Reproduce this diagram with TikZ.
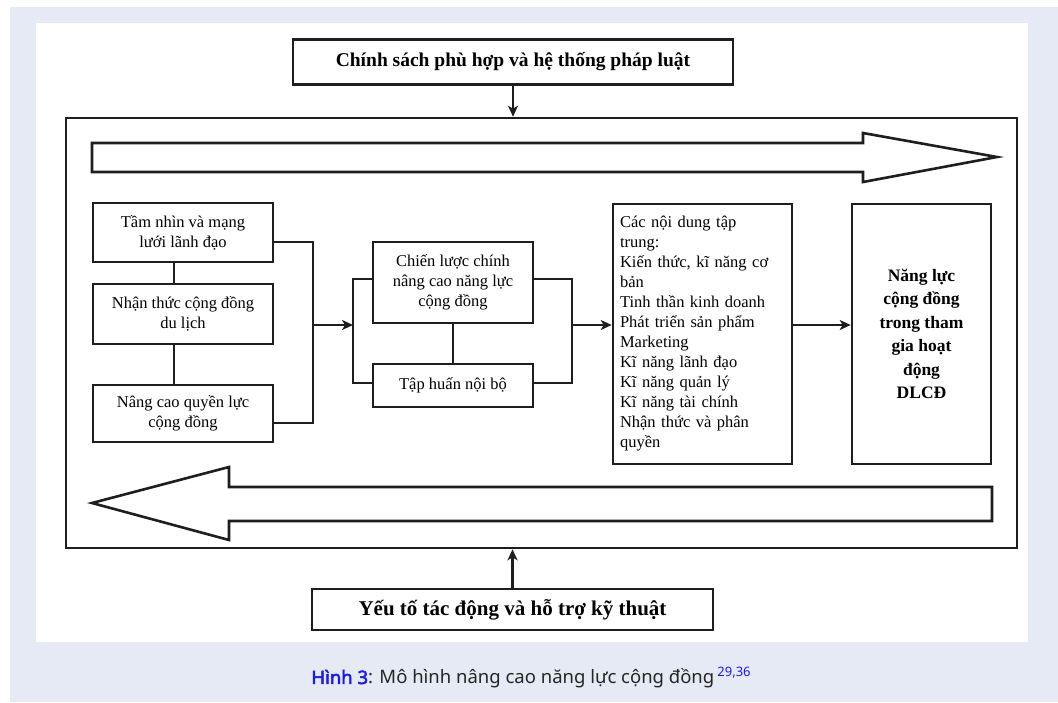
\documentclass[tikz,border=0pt]{standalone}
\usepackage{fontspec}
\setmainfont{Liberation Serif}
\newfontfamily\capfont{Noto Sans}[AutoFakeBold=2.5]
\usetikzlibrary{arrows.meta,calc}
\definecolor{bgblue}{HTML}{E6EAF5}
\definecolor{ink}{HTML}{1E1E1E}
\definecolor{capblue}{HTML}{1A1AF0}
\tikzset{
  box/.style={draw=ink, line width=2.6pt, fill=white, align=center, inner sep=2pt, font=\fontsize{16.5}{20}\selectfont},
  bigtitle/.style={box, font=\fontsize{19.5}{23}\selectfont\bfseries},
  conn/.style={draw=ink, line width=2.6pt},
  arr/.style={conn, -{Stealth[length=11pt,width=10pt,inset=3pt]}},
  bigarrow/.style={draw=ink, line width=2.6pt, fill=white, line join=miter},
}
\begin{document}
\begin{tikzpicture}[x=1pt,y=-1pt]
\useasboundingbox (0,0) rectangle (1058,702);
\fill[white] (0,0) rectangle (1058,702);
\fill[bgblue] (10,7) rectangle (1058,702);
\fill[white] (36,23) rectangle (1028,642);

% outer frame
\node[draw=ink, line width=2.6pt, minimum width=951pt, minimum height=430pt, inner sep=0pt] (frame) at (541.5,333) {};

% big arrows
\draw[bigarrow] (92,143) -- (863,143) -- (863,133) -- (997,157) -- (863,182) -- (863,172) -- (92,172) -- cycle;
\draw[bigarrow] (992,487) -- (229,487) -- (229,467) -- (92,503) -- (229,540) -- (229,521) -- (992,521) -- cycle;

% title boxes
\node[bigtitle, minimum width=440pt, minimum height=45pt] (top) at (513,62) {Chính sách phù hợp và hệ thống pháp luật};
\node[bigtitle, font=\fontsize{21}{25}\selectfont\bfseries, minimum width=401pt, minimum height=41pt] (bot) at (512.5,609.5) {Yếu tố tác động và hỗ trợ kỹ thuật};

% left boxes
\node[box, minimum width=180pt, minimum height=59pt] (b1) at (183,232.5) {Tầm nhìn và mạng\\lưới lãnh đạo};
\node[box, minimum width=180pt, minimum height=60pt] (b2) at (183,314) {Nhận thức cộng đồng\\du lịch};
\node[box, minimum width=180pt, minimum height=57pt] (b3) at (183,413.5) {Nâng cao quyền lực\\cộng đồng};

% middle boxes
\node[box, minimum width=160pt, minimum height=81pt] (strat) at (453,282.5) {Chiến lược chính\\nâng cao năng lực\\cộng đồng};
\node[box, minimum width=160pt, minimum height=43pt] (train) at (453,385.5) {Tập huấn nội bộ};

% content box
\node[box, minimum width=179pt, minimum height=260pt, align=left, text width=165pt, inner sep=6pt] (content) at (702.5,334) {Các nội dung tập\\trung:\\Kiến thức, kĩ năng cơ\\bản\\Tinh thần kinh doanh\\Phát triển sản phẩm\\Marketing\\Kĩ năng lãnh đạo\\Kĩ năng quản lý\\Kĩ năng tài chính\\Nhận thức và phân\\quyền};

% final box
\node[box, font=\fontsize{17.5}{23.5}\selectfont\bfseries, minimum width=139pt, minimum height=260pt] (final) at (921.5,334) {Năng lực\\cộng đồng\\trong tham\\gia hoạt\\động\\DLCĐ};

% junction coordinates
\coordinate (j1) at (313,325);
\coordinate (j2) at (353,325);
\coordinate (j3) at (572,325);

% connectors
\draw[conn] ([xshift=-9pt]b1.south) -- ([xshift=-9pt]b2.north);
\draw[conn] ([xshift=-9pt]b2.south) -- ([xshift=-9pt]b3.north);
\draw[conn] ([yshift=-9.5pt]b1.east) -| (j1) |- ([yshift=-9.5pt]b3.east);
\draw[arr] (j1) -- (j2);
\draw[conn] ([yshift=3.5pt]strat.west) -| (j2) |- ([yshift=2.5pt]train.west);
\draw[conn] ([yshift=3.5pt]strat.east) -| (j3) |- ([yshift=2.5pt]train.east);
\draw[conn] (strat.south) -- (train.north);
\draw[arr] (j3) -- (j3 -| content.west);
\draw[arr] (content.east |- j3) -- (final.west |- j3);
\draw[arr] (top.south) -- (top.south |- frame.north);
\draw[arr] (bot.north) -- (bot.north |- frame.south);

% caption
\node[font=\capfont\fontsize{18.5}{22}\selectfont, text=black!85, inner sep=0pt] (cap) at (531,678)
  {\textcolor{capblue}{\bfseries Hình 3}: Mô hình nâng cao năng lực cộng đồng\,\raisebox{7pt}{\textcolor{capblue}{\fontsize{13}{15}\selectfont 29,36}}};
\end{tikzpicture}
\end{document}
